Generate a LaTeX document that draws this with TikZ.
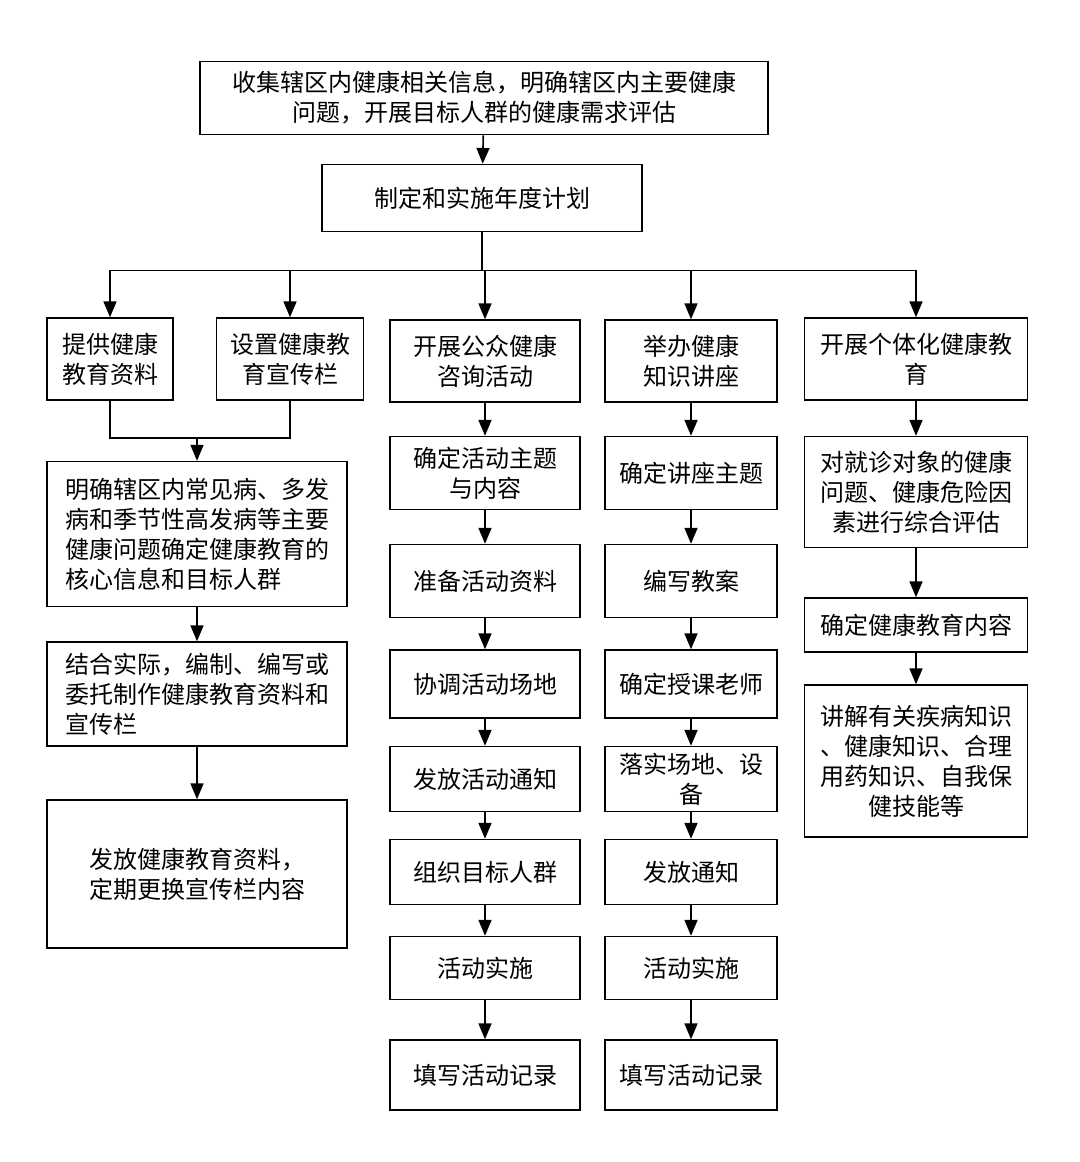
\documentclass[tikz,border=0pt]{standalone}
\usepackage{fontspec}
\setmainfont{Noto Sans CJK SC}
\usetikzlibrary{arrows}
\usetikzlibrary{positioning}
\tikzset{
    box/.style={draw, thick, align=center, inner sep=2pt, font=\fontsize{12}{15}\selectfont},
    lbox/.style={box, align=left},
    arr/.style={thick, -triangle 45}
}
\begin{document}
\begin{tikzpicture}[x=0.5pt, y=-0.5pt]
        \useasboundingbox (0,0) rectangle (1080,1162);

        % top rows
        \node[box, minimum width=284pt, minimum height=36.5pt] (collect) at (484,98)
            {收集辖区内健康相关信息，明确辖区内主要健康\\问题，开展目标人群的健康需求评估};
        \node[box, minimum width=160pt, minimum height=33.5pt] (plan) at (482,198) {制定和实施年度计划};

        % branches
        \node[box, minimum width=63pt, minimum height=41pt] (material) at (110,359) {提供健康\\教育资料};
        \node[box, minimum width=73.5pt, minimum height=41pt] (board) at (290,359) {设置健康教\\育宣传栏};
        \node[box, minimum width=95pt, minimum height=41pt] (consult) at (485,361) {开展公众健康\\咨询活动};
        \node[box, minimum width=86pt, minimum height=41pt] (lecture) at (691,361) {举办健康\\知识讲座};
        \node[box, minimum width=111.5pt, minimum height=41pt] (person) at (916,359) {开展个体化健康教\\育};

        % left column
        \node[lbox, minimum width=150pt, minimum height=72.5pt] (core) at (197,534)
            {明确辖区内常见病、多发\\病和季节性高发病等主要\\健康问题确定健康教育的\\核心信息和目标人群};
        \node[lbox, minimum width=150pt, minimum height=52pt] (make) at (197,694)
            {结合实际，编制、编写或\\委托制作健康教育资料和\\宣传栏};
        \node[lbox, minimum width=150pt, minimum height=74pt] (issue) at (197,874)
            {发放健康教育资料，\\定期更换宣传栏内容};

        % middle column
        \node[box, minimum width=95pt, minimum height=36.5pt] (c1) at (485,473) {确定活动主题\\与内容};
        \node[box, minimum width=95pt, minimum height=36.5pt] (c2) at (485,581) {准备活动资料};
        \node[box, minimum width=95pt, minimum height=34pt] (c3) at (485,684) {协调活动场地};
        \node[box, minimum width=95pt, minimum height=32.5pt] (c4) at (485,779) {发放活动通知};
        \node[box, minimum width=95pt, minimum height=32.5pt] (c5) at (485,872) {组织目标人群};
        \node[box, minimum width=95pt, minimum height=31.5pt] (c6) at (485,968) {活动实施};
        \node[box, minimum width=95pt, minimum height=35pt] (c7) at (485,1075) {填写活动记录};

        % lecture column
        \node[box, minimum width=86pt, minimum height=36.5pt] (l1) at (691,473) {确定讲座主题};
        \node[box, minimum width=86pt, minimum height=36.5pt] (l2) at (691,581) {编写教案};
        \node[box, minimum width=86pt, minimum height=34pt] (l3) at (691,684) {确定授课老师};
        \node[box, minimum width=86pt, minimum height=32.5pt] (l4) at (691,779) {落实场地、设\\备};
        \node[box, minimum width=86pt, minimum height=32.5pt] (l5) at (691,872) {发放通知};
        \node[box, minimum width=86pt, minimum height=31.5pt] (l6) at (691,968) {活动实施};
        \node[box, minimum width=86pt, minimum height=35pt] (l7) at (691,1075) {填写活动记录};

        % right column
        \node[box, minimum width=111.5pt, minimum height=55.5pt] (p1) at (916,492)
            {对就诊对象的健康\\问题、健康危险因\\素进行综合评估};
        \node[box, minimum width=111.5pt, minimum height=27pt] (p2) at (916,625) {确定健康教育内容};
        \node[box, minimum width=111.5pt, minimum height=76pt] (p3) at (916,761)
            {讲解有关疾病知识\\、健康知识、合理\\用药知识、自我保\\健技能等};

        % connectors
        \draw[arr] (collect) -- (plan);
        \draw[thick] (plan.south) -- ++(0,38) coordinate (split);
        \draw[thick] (split -| material) -- (split -| person);
        \foreach \b in {material, board, consult, lecture, person}
            \draw[arr] (split -| \b) -- (\b);
        \draw[thick] (material.south) -- ++(0,37) coordinate (merge) -- (merge -| board) -- (board.south);
        \draw[arr] (merge -| core) -- (core);
        \draw[arr] (core) -- (make);
        \draw[arr] (make) -- (issue);
        \draw[arr] (consult) -- (c1);
        \draw[arr] (lecture) -- (l1);
        \foreach \i [count=\j from 2] in {1,...,6} {
            \draw[arr] (c\i) -- (c\j);
            \draw[arr] (l\i) -- (l\j);
        }
        \draw[arr] (person) -- (p1);
        \draw[arr] (p1) -- (p2);
        \draw[arr] (p2) -- (p3);
    \end{tikzpicture}
\end{document}
